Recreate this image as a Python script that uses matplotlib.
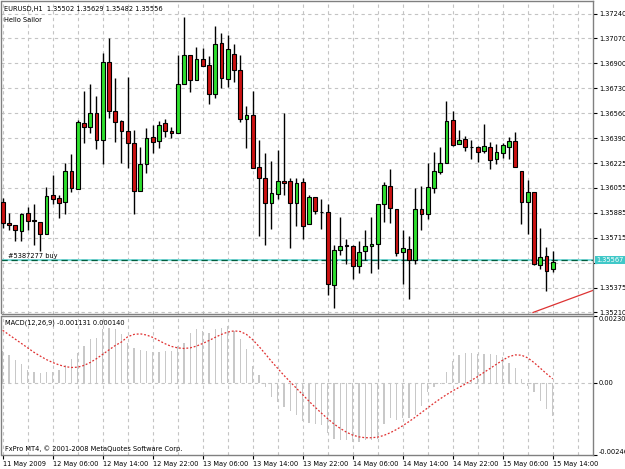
import matplotlib
matplotlib.use("Agg")
import matplotlib.pyplot as plt
import matplotlib.transforms as mtransforms
import numpy as np

# EURUSD H1 candles, 11 May 22:00 .. 15 May 14:00
opens = [1.35961, 1.35818, 1.35801, 1.35764, 1.35887, 1.35837, 1.35823, 1.35746, 1.36007, 1.35985,
         1.35957, 1.36173, 1.36048, 1.36496, 1.36472, 1.36564, 1.36382, 1.36911, 1.36579, 1.36511,
         1.36445, 1.36359, 1.36036, 1.36216, 1.36400, 1.36375, 1.36496, 1.36445, 1.36431, 1.36761,
         1.36956, 1.36786, 1.36932, 1.36888, 1.36693, 1.37040, 1.36795, 1.36968, 1.36859, 1.36525,
         1.36552, 1.36196, 1.36125, 1.35951, 1.36012, 1.36102, 1.36102, 1.35951, 1.36094, 1.35810,
         1.35991, 1.35893, 1.35889, 1.35394, 1.35637, 1.35667, 1.35662, 1.35526, 1.35628, 1.35662,
         1.35678, 1.35946, 1.36068, 1.35912, 1.35621, 1.35644, 1.35564, 1.35910, 1.35876, 1.36053,
         1.36166, 1.36227, 1.36518, 1.36354, 1.36386, 1.36336, 1.36332, 1.36307, 1.36336, 1.36250,
         1.36295, 1.36336, 1.36375, 1.36173, 1.35961, 1.36030, 1.35535, 1.35592, 1.35502]
highs = [1.35989, 1.35887, 1.35803, 1.35884, 1.35927, 1.35946, 1.35823, 1.36064, 1.36143, 1.36007,
         1.36223, 1.36286, 1.36518, 1.36711, 1.36761, 1.36677, 1.36972, 1.37075, 1.36802, 1.36518,
         1.36809, 1.36450, 1.36336, 1.36461, 1.36484, 1.36513, 1.36523, 1.36472, 1.36961, 1.37215,
         1.36961, 1.37011, 1.37006, 1.36949, 1.37158, 1.37109, 1.37097, 1.37036, 1.36961, 1.36613,
         1.36711, 1.36382, 1.36291, 1.36239, 1.36314, 1.36564, 1.36125, 1.36121, 1.36125, 1.36007,
         1.35996, 1.35978, 1.35946, 1.35667, 1.35859, 1.35712, 1.35667, 1.35696, 1.35769, 1.35859,
         1.35946, 1.36098, 1.36182, 1.35912, 1.35769, 1.35728, 1.36057, 1.36068, 1.36227, 1.36298,
         1.36336, 1.36649, 1.36575, 1.36450, 1.36409, 1.36382, 1.36341, 1.36491, 1.36370, 1.36352,
         1.36359, 1.36404, 1.36434, 1.36173, 1.36109, 1.36030, 1.35784, 1.35655, 1.35629]
lows = [1.35784, 1.35769, 1.35696, 1.35696, 1.35769, 1.35671, 1.35626, 1.35746, 1.35946, 1.35855,
        1.35882, 1.36030, 1.36048, 1.36359, 1.36427, 1.36318, 1.36216, 1.36530, 1.36370, 1.36223,
        1.36193, 1.35882, 1.36036, 1.36155, 1.36291, 1.36325, 1.36404, 1.36393, 1.36431, 1.36761,
        1.36704, 1.36786, 1.36881, 1.36625, 1.36666, 1.36734, 1.36741, 1.36775, 1.36502, 1.36325,
        1.36189, 1.35730, 1.35667, 1.35780, 1.35978, 1.36007, 1.35651, 1.35796, 1.35712, 1.35810,
        1.35876, 1.35780, 1.35326, 1.35242, 1.35598, 1.35542, 1.35440, 1.35478, 1.35564, 1.35478,
        1.35508, 1.35825, 1.35818, 1.35592, 1.35401, 1.35303, 1.35542, 1.35773, 1.35848, 1.36019,
        1.36148, 1.36223, 1.36343, 1.36354, 1.36309, 1.36250, 1.36230, 1.36291, 1.36182, 1.36218,
        1.36261, 1.36250, 1.36196, 1.35814, 1.35746, 1.35530, 1.35508, 1.35355, 1.35482]
closes = [1.35818, 1.35801, 1.35769, 1.35882, 1.35832, 1.35828, 1.35746, 1.36002, 1.35980, 1.35951,
          1.36173, 1.36053, 1.36502, 1.36472, 1.36564, 1.36382, 1.36911, 1.36575, 1.36506, 1.36443,
          1.36359, 1.36036, 1.36216, 1.36393, 1.36370, 1.36484, 1.36443, 1.36431, 1.36761, 1.36956,
          1.36786, 1.36932, 1.36886, 1.36693, 1.37036, 1.36802, 1.37000, 1.36859, 1.36525, 1.36552,
          1.36189, 1.36125, 1.35951, 1.36019, 1.36105, 1.36092, 1.35951, 1.36087, 1.35798, 1.35991,
          1.35898, 1.35889, 1.35401, 1.35637, 1.35660, 1.35663, 1.35523, 1.35621, 1.35662, 1.35678,
          1.35946, 1.36075, 1.35917, 1.35617, 1.35651, 1.35569, 1.35910, 1.35876, 1.36060, 1.36171,
          1.36227, 1.36511, 1.36348, 1.36382, 1.36332, 1.36332, 1.36302, 1.36343, 1.36246, 1.36302,
          1.36348, 1.36375, 1.36196, 1.35961, 1.36030, 1.35542, 1.35587, 1.35491, 1.35556]

# MACD(12,26,9) main (histogram) and signal, x1e-4
macd_main = [11, 9.6, 7.9, 6.5, 4.5, 3.8, 3.4, 3.8, 3.8, 4.5,
             6.2, 8.2, 10.3, 12.6, 14.9, 15.4, 18.3, 18.9, 18.5, 16.6,
             13.8, 12.1, 11.3, 11, 10.6, 10.6, 11, 11, 12.6, 13.8,
             17.2, 18.3, 17.7, 17.2, 18.3, 18.9, 19.4, 17.7, 14.9, 11.5,
             5.8, 2.8, -1.4, -4.8, -6.5, -8.2, -9.5, -11, -13, -13.5,
             -14, -14.5, -17, -19, -19.5, -19.5, -20, -20, -19.5, -19.5,
             -19, -14, -12, -12.5, -12, -12, -11, -8, -3, -1.5,
             -0.5, 3.6, 7.5, 9.5, 10.3, 10.3, 10, 10, 10, 9.5,
             9, 7, 5, 1.5, -0.9, -3, -6, -9, -11.31]
macd_signal = [18, 16.5, 15, 13.5, 12, 10.5, 9.2, 8, 7, 6.2,
               5.6, 5.3, 5.4, 6, 7, 8.3, 9.8, 11.3, 12.8, 14,
               15.8, 16.6, 16.8, 16.4, 15.6, 14.5, 13.4, 12.5, 12, 11.8,
               12, 12.6, 13.5, 14.5, 15.6, 16.6, 17.4, 17.8, 17.6, 16.6,
               14.8, 12.5, 10, 7.4, 5, 2.6, 0.4, -1.8, -4, -6.2,
               -8.3, -10.3, -12.2, -14, -15.5, -16.8, -17.8, -18.4, -18.7, -18.7,
               -18.5, -17.9, -17, -15.9, -14.6, -13.2, -11.7, -10.1, -8.5, -6.9,
               -5.4, -4, -2.7, -1.5, -0.4, 0.9, 2.2, 3.6, 5, 6.4,
               7.8, 9, 9.6, 9.5, 8.6, 7, 5.1, 3.2, 1.4]

price_ticks = [1.37240 - k * (1.37240 - 1.35210) / 12 for k in range(13)]
price_labels = ["1.37240", "1.37070", "1.36900", "1.36730", "1.36560", "1.36390", "1.36225",
                "1.36055", "1.35885", "1.35715", "", "1.35375", "1.35210"]
date_labels = ["11 May 2009", "12 May 06:00", "12 May 14:00", "12 May 22:00", "13 May 06:00",
               "13 May 14:00", "13 May 22:00", "14 May 06:00", "14 May 14:00", "14 May 22:00",
               "15 May 06:00", "15 May 14:00"]
order_price = 1.35567
trend_x = [84.85, 94.45]
trend_y = [1.35210, 1.35360]

plt.rcParams['font.family'] = ['DejaVu Sans']
W, H = 625, 469
FS = 4.8
fig = plt.figure(figsize=(W / 100, H / 100), dpi=100)


def box(l, t, r, b):
    return [l / W, 1 - b / H, (r - l) / W, (b - t) / H]


ax = fig.add_axes(box(1.5, 1.5, 593, 313.5))
mx = fig.add_axes(box(1.5, 315.5, 593, 455))

o = np.array(opens)
c = np.array(closes)
x = np.arange(len(o))
up = c >= o
grid_kw = dict(color='#c4c4c4', lw=0.8, dashes=(3, 3), zorder=1)

for a in (ax, mx):
    a.set_xlim(-0.19, 94.45)
    for gx in np.arange(0, 95, 4):
        a.axvline(gx, **grid_kw)
    for s in a.spines.values():
        s.set_color('#808080')
        s.set_linewidth(1)

# price panel
ax.set_ylim(1.35203, 1.37322)
for gy in price_ticks:
    ax.axhline(gy, **grid_kw)
ax.vlines(x, lows, highs, color='black', lw=1, zorder=3)
ax.bar(x, np.maximum(np.abs(c - o), 0.00002), bottom=np.minimum(o, c), width=0.62,
       color=np.where(up, '#2ee02e', '#cc1111'), edgecolor='black', lw=0.8, zorder=4)
ax.axhline(order_price, color='#6fd8d8', lw=1.3, zorder=2)
ax.axhline(order_price, color='#006040', lw=0.9, dashes=(5, 3), zorder=2)
ax.plot(trend_x, trend_y, color='#dd3333', lw=0.9, zorder=2)
ax.text(0.8, order_price + 0.00006, '#5387277 buy', fontsize=FS, va='bottom', ha='left')

ax.yaxis.tick_right()
ax.set_yticks(price_ticks)
ax.set_yticklabels(price_labels)
ax.tick_params(axis='y', length=3, width=0.8, pad=1.2, labelsize=FS, color='black')
ax.tick_params(axis='x', length=0, labelbottom=False)
tr = mtransforms.blended_transform_factory(ax.transAxes, ax.transData)
ax.text(1.0055, order_price, '1.35567', transform=tr, fontsize=FS, color='white', va='center',
        ha='left', bbox=dict(facecolor='#40c8c8', edgecolor='none', pad=1.0), clip_on=False)

# MACD panel
mx.set_ylim(-0.00246, 0.002306)
mx.axhline(0, **grid_kw)
mx.bar(x, np.array(macd_main) * 1e-4, width=0.22, color='#c8c8c8', zorder=2)
mx.plot(x, np.array(macd_signal) * 1e-4, color='#e03030', lw=0.9, dashes=(1.5, 1.5), zorder=3)
mx.yaxis.tick_right()
mx.set_yticks([0.002306, 0, -0.00246])
mx.set_yticklabels(["0.002306", "0.00", "-0.00246"])
mx.tick_params(axis='y', length=3, width=0.8, pad=1.2, labelsize=FS)
ylab = mx.get_yticklabels()
ylab[0].set_va('top')
ylab[2].set_va('bottom')
mx.set_xticks(np.arange(0, 89, 8))
mx.set_xticklabels(date_labels, ha='left')
mx.tick_params(axis='x', length=3, width=0.8, pad=1.5, labelsize=FS)

fig.text(4 / W, 1 - 9 / H, 'EURUSD,H1  1.35502 1.35629 1.35482 1.35556', fontsize=FS, va='center')
fig.text(4 / W, 1 - 20 / H, 'Hello Sailor', fontsize=FS, va='center')
fig.text(5 / W, 1 - 323 / H, 'MACD(12,26,9) -0.001131 0.000140', fontsize=FS, va='center')
fig.text(5 / W, 1 - 449 / H, 'FxPro MT4, \u00a9 2001-2008 MetaQuotes Software Corp.', fontsize=FS,
         va='center')

fig.savefig('out.png', dpi=100, facecolor='white')
